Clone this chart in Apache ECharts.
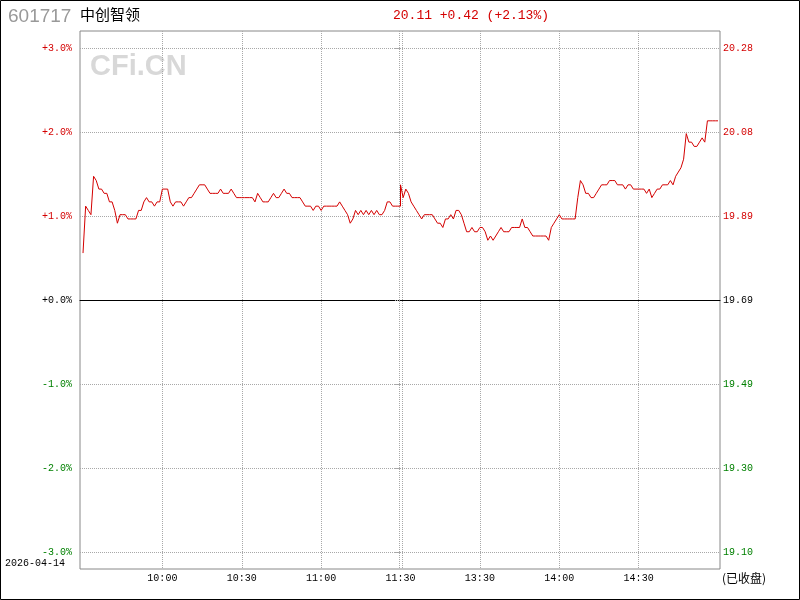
<!DOCTYPE html>
<html><head><meta charset="utf-8">
<script src="https://cdn.jsdelivr.net/npm/echarts@6/dist/echarts.min.js"></script>
<style>html,body{margin:0;padding:0;background:#fff}#c{width:800px;height:600px}</style>
</head><body><div id="c"></div>
<script>
const stockCode = '601717';
const stockName = '中创智领';
const tradeDate = '2026-04-14';
const statusText = '(已收盘)';
const watermark = 'CFi.CN';
const prevClose = 19.69;
// 09:30 .. 11:30, one price per minute
const morningPrices = [
  19.80,19.91,19.90,19.89,19.98,19.97,19.95,19.95,19.94,19.94,
  19.92,19.92,19.90,19.87,19.89,19.89,19.89,19.88,19.88,19.88,
  19.88,19.90,19.90,19.92,19.93,19.92,19.92,19.91,19.92,19.92,
  19.95,19.95,19.95,19.92,19.91,19.92,19.92,19.92,19.91,19.92,
  19.93,19.93,19.94,19.95,19.96,19.96,19.96,19.95,19.94,19.94,
  19.94,19.94,19.95,19.94,19.94,19.94,19.95,19.94,19.93,19.93,
  19.93,19.93,19.93,19.93,19.93,19.92,19.94,19.93,19.92,19.92,
  19.92,19.93,19.94,19.93,19.93,19.94,19.95,19.94,19.94,19.93,
  19.93,19.93,19.93,19.92,19.91,19.91,19.91,19.90,19.91,19.91,
  19.90,19.91,19.91,19.91,19.91,19.91,19.91,19.92,19.91,19.90,
  19.89,19.87,19.88,19.90,19.89,19.90,19.89,19.90,19.89,19.90,
  19.89,19.90,19.89,19.89,19.90,19.92,19.92,19.91,19.91,19.91,
  19.91
];
// 13:00 .. 15:00, one price per minute
const afternoonPrices = [
  19.96,19.93,19.95,19.94,19.92,19.91,19.90,19.89,19.88,19.89,
  19.89,19.89,19.89,19.88,19.87,19.87,19.86,19.88,19.88,19.89,
  19.88,19.90,19.90,19.89,19.87,19.85,19.85,19.86,19.85,19.85,
  19.86,19.86,19.85,19.83,19.84,19.83,19.84,19.85,19.86,19.85,
  19.85,19.85,19.86,19.86,19.86,19.86,19.88,19.86,19.86,19.85,
  19.84,19.84,19.84,19.84,19.84,19.84,19.83,19.86,19.87,19.88,
  19.89,19.88,19.88,19.88,19.88,19.88,19.88,19.93,19.97,19.96,
  19.94,19.94,19.93,19.93,19.94,19.95,19.96,19.96,19.96,19.97,
  19.97,19.97,19.96,19.96,19.96,19.95,19.96,19.96,19.95,19.95,
  19.95,19.95,19.95,19.94,19.95,19.93,19.94,19.95,19.95,19.96,
  19.96,19.96,19.97,19.96,19.98,19.99,20.00,20.02,20.08,20.06,
  20.06,20.05,20.05,20.06,20.07,20.06,20.11,20.11,20.11,20.11,
  20.11
];
const pctTicks = [-3, -2, -1, 0, 1, 2, 3];
const timeTickMinutes = [30, 60, 90, 120, 150, 180, 210];
const timeTickLabels = ['10:00', '10:30', '11:00', '11:30', '13:30', '14:00', '14:30'];

// ---- build ----
const PCT_RANGE = 3.2024;
const RED = '#d40000', GREEN = '#008000';
const series = morningPrices.map((p, i) => [i, p])
  .concat(afternoonPrices.map((p, i) => [120 + i, p]));
const last = afternoonPrices[afternoonPrices.length - 1];
const chg = last - prevClose;
const chgPct = chg / prevClose * 100;
const sgn = v => (v >= 0 ? '+' : '-');
const header = last.toFixed(2) + ' ' + sgn(chg) + Math.abs(chg).toFixed(2) +
  ' (' + sgn(chgPct) + Math.abs(chgPct).toFixed(2) + '%)';
const signColor = v => (v > 1e-9 ? RED : (v < -1e-9 ? GREEN : '#000'));
const gridLineColor = '#a8a8a8';
const vertTicks = [];
timeTickMinutes.forEach(m => { if (m === 120) { vertTicks.push(119.45, 120.55); } else vertTicks.push(m); });

const chart = echarts.init(document.getElementById('c'), null, {renderer: 'canvas'});
chart.setOption({
  animation: false,
  backgroundColor: '#fff',
  grid: [
    {left: 80, right: 80, top: 31, bottom: 31, show: true, borderColor: '#888', borderWidth: 1, backgroundColor: 'transparent'},
    {left: 83, right: 82, top: 31, bottom: 31}
  ],
  xAxis: [
    {gridIndex: 0, type: 'value', min: -1, max: 1,
     axisLine: {show: true, onZero: true, lineStyle: {color: '#000', width: 1}},
     axisTick: {show: false}, axisLabel: {show: false}, splitLine: {show: false}},
    {gridIndex: 1, type: 'value', min: 0, max: 240,
     axisLine: {show: false},
     axisTick: {show: false, customValues: vertTicks},
     axisLabel: {show: true, customValues: timeTickMinutes, margin: 4,
       fontFamily: 'Liberation Mono', fontSize: 10, color: '#000',
       formatter: v => timeTickLabels[timeTickMinutes.indexOf(Number(v))] || ''},
     splitLine: {show: true, lineStyle: {color: gridLineColor, type: [1, 1], width: 1}}}
  ],
  yAxis: [
    {gridIndex: 0, type: 'value', position: 'left', min: -PCT_RANGE, max: PCT_RANGE,
     axisLine: {show: false},
     axisTick: {show: true, length: 6, customValues: pctTicks, lineStyle: {color: gridLineColor, type: [1, 1]}},
     axisLabel: {customValues: pctTicks, margin: 8, fontFamily: 'Liberation Mono', fontSize: 10,
       formatter: v => (Number(v) >= 0 ? '+' : '') + Number(v).toFixed(1) + '%',
       color: v => signColor(Number(v))},
     splitLine: {show: true, lineStyle: {color: gridLineColor, type: [1, 1], width: 1}}},
    {gridIndex: 0, type: 'value', position: 'right', min: -PCT_RANGE, max: PCT_RANGE,
     axisLine: {show: false},
     axisTick: {show: false, customValues: pctTicks},
     axisLabel: {customValues: pctTicks, margin: 3, fontFamily: 'Liberation Mono', fontSize: 10,
       formatter: v => (prevClose * (1 + Number(v) / 100)).toFixed(2),
       color: v => signColor(Number(v))},
     splitLine: {show: false}},
    {gridIndex: 1, type: 'value', show: false,
     min: prevClose * (1 - PCT_RANGE / 100), max: prevClose * (1 + PCT_RANGE / 100)}
  ],
  series: [{
    type: 'line', xAxisIndex: 1, yAxisIndex: 2, data: series,
    showSymbol: false, symbol: 'none', smooth: false,
    lineStyle: {color: RED, width: 1}, z: 5
  }],
  graphic: [
    {type: 'rect', shape: {x: 0.5, y: 0.5, width: 799, height: 599}, style: {fill: 'none', stroke: '#000', lineWidth: 1}, silent: true, z: 100},
    {type: 'text', left: 8, top: 7, style: {text: stockCode, fill: '#999', font: '19px "Liberation Sans"'}},
    {type: 'text', left: 80, top: 7, style: {text: stockName, fill: '#000', font: '15px "Noto Sans CJK SC"'}},
    {type: 'text', left: 393, top: 9, style: {text: header, fill: RED, font: '13px "Liberation Mono"'}},
    {type: 'text', left: 90, top: 52, z: 0, style: {text: watermark, fill: '#d8d8d8', font: 'bold 29px "Liberation Sans"'}},
    {type: 'text', left: 5, top: 558, style: {text: tradeDate, fill: '#000', font: '10px "Liberation Mono"'}},
    {type: 'text', left: 722, top: 572, style: {text: statusText, fill: '#000', font: '12px "Noto Sans CJK SC"'}}
  ]
});
</script></body></html>
